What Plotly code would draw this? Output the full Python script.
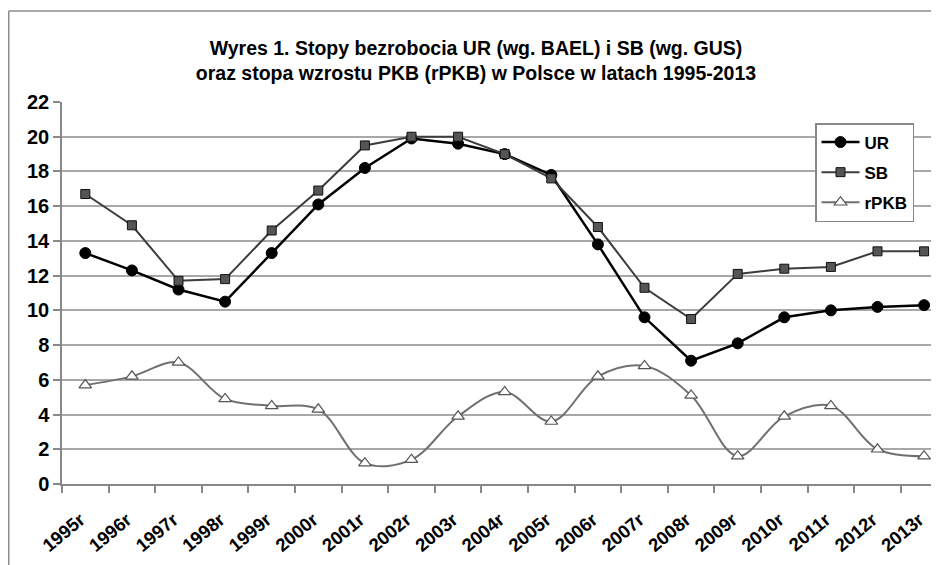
import plotly.graph_objects as go

years = ["1995r", "1996r", "1997r", "1998r", "1999r", "2000r", "2001r", "2002r", "2003r", "2004r",
         "2005r", "2006r", "2007r", "2008r", "2009r", "2010r", "2011r", "2012r", "2013r"]
ur = [13.3, 12.3, 11.2, 10.5, 13.3, 16.1, 18.2, 19.9, 19.6, 19.0,
      17.8, 13.8, 9.6, 7.1, 8.1, 9.6, 10.0, 10.2, 10.3]
sb = [16.7, 14.9, 11.7, 11.8, 14.6, 16.9, 19.5, 20.0, 20.0, 19.0,
      17.6, 14.8, 11.3, 9.5, 12.1, 12.4, 12.5, 13.4, 13.4]
rpkb = [5.7, 6.2, 7.0, 4.9, 4.5, 4.3, 1.2, 1.4, 3.9, 5.3,
        3.6, 6.2, 6.8, 5.1, 1.6, 3.9, 4.5, 2.0, 1.6]
y_ticks = list(range(0, 23, 2))

FONT = "Liberation Sans, Arial, sans-serif"

fig = go.Figure()
fig.add_trace(go.Scatter(
    x=years, y=ur, name="UR", mode="lines+markers", legendgroup="a",
    line=dict(color="#000000", width=2.5),
    marker=dict(symbol="circle", size=11, color="#000000", line=dict(color="#000000", width=1)),
))
fig.add_trace(go.Scatter(
    x=years, y=sb, name="SB", mode="lines+markers", legendgroup="b",
    line=dict(color="#3c3c3c", width=2),
    marker=dict(symbol="square", size=9, color="#555555", line=dict(color="#111111", width=1)),
))
fig.add_trace(go.Scatter(
    x=years, y=rpkb, name="rPKB", mode="lines+markers", legendgroup="c",
    line=dict(color="#707070", width=2, shape="spline", smoothing=1.0),
    marker=dict(symbol="triangle-up", size=11, color="#ffffff", line=dict(color="#555555", width=1.2)),
))

# figure sits at page offset (8, 8) because of the default body margin
W, H = 931, 557
L, T = 54, 94
pw = W - L
ph = 382.0
B = H - T - ph

def px_x(page_x):
    return (page_x - 8 - L) / pw

def px_y(page_y):
    return (T + ph - (page_y - 8)) / ph

fig.update_layout(
    width=W, height=H,
    margin=dict(l=L, r=0, t=T, b=B),
    paper_bgcolor="white", plot_bgcolor="white",
    font=dict(family=FONT, color="#000000", size=17),
    title=dict(
        text="Wyres 1. Stopy bezrobocia UR (wg. BAEL) i SB (wg. GUS)<br>oraz stopa wzrostu PKB (rPKB) w Polsce w latach 1995-2013",
        x=(476 - 8) / W, xref="container", xanchor="center",
        y=1 - (54.5 - 8) / H, yref="container", yanchor="middle",
        font=dict(family=FONT, size=19.5, weight="bold", color="#000000"),
    ),
    showlegend=True,
    legend=dict(
        x=px_x(815), y=px_y(123), xanchor="left", yanchor="top",
        bgcolor="white", bordercolor="#888888", borderwidth=1.5,
        font=dict(family=FONT, size=17, weight="bold"),
        itemwidth=38, traceorder="grouped", tracegroupgap=5,
    ),
    xaxis=dict(
        type="category", categoryorder="array", categoryarray=years,
        range=[-0.5, 18.32],
        showline=True, linecolor="#888888", linewidth=1.5,
        ticks="outside", tickson="boundaries", ticklen=7, tickcolor="#888888", tickwidth=1.5,
        tickangle=-40, showgrid=False, ticklabelstandoff=16, ticklabelshift=-5,
        tickfont=dict(family=FONT, size=18.5, weight="bold"),
    ),
    yaxis=dict(
        range=[0, 22], tickvals=y_ticks, ticktext=[str(v) for v in y_ticks],
        showline=True, linecolor="#888888", linewidth=1.5,
        ticks="outside", ticklen=7, tickcolor="#888888", tickwidth=1.5,
        showgrid=True, gridcolor="#a8a8a8", gridwidth=1.5, zeroline=False,
        tickfont=dict(family=FONT, size=20, weight="bold"),
    ),
    shapes=[
        dict(type="line", xref="paper", yref="paper",
             x0=(0.75 - L) / pw, x1=1.05, y0=px_y(11), y1=px_y(11),
             line=dict(color="#8c8c8c", width=1.5)),
        dict(type="line", xref="paper", yref="paper",
             x0=(0.75 - L) / pw, x1=(0.75 - L) / pw, y0=px_y(11), y1=px_y(600),
             line=dict(color="#8c8c8c", width=1.5)),
    ],
)

fig.write_html("out.html")
